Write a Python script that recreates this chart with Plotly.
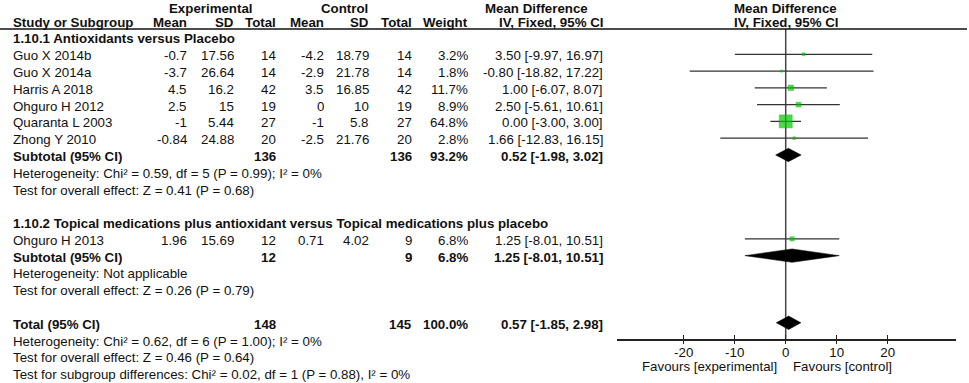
import numpy as np
import plotly.graph_objects as go

W, H = 969, 383

# ---------------- data ----------------
group_titles = ["1.10.1 Antioxidants versus Placebo",
                "1.10.2 Topical medications plus antioxidant versus Topical medications plus placebo"]

g1_studies = ["Guo X 2014b", "Guo X 2014a", "Harris A 2018", "Ohguro H 2012", "Quaranta L 2003", "Zhong Y 2010"]
g1_exp_mean = [-0.7, -3.7, 4.5, 2.5, -1, -0.84]
g1_exp_sd = [17.56, 26.64, 16.2, 15, 5.44, 24.88]
g1_exp_n = [14, 14, 42, 19, 27, 20]
g1_ctl_mean = [-4.2, -2.9, 3.5, 0, -1, -2.5]
g1_ctl_sd = [18.79, 21.78, 16.85, 10, 5.8, 21.76]
g1_ctl_n = [14, 14, 42, 19, 27, 20]
g1_weight = [3.2, 1.8, 11.7, 8.9, 64.8, 2.8]
g1_md = [3.50, -0.80, 1.00, 2.50, 0.00, 1.66]
g1_lo = [-9.97, -18.82, -6.07, -5.61, -3.00, -12.83]
g1_hi = [16.97, 17.22, 8.07, 10.61, 3.00, 16.15]

g2_studies = ["Ohguro H 2013"]
g2_exp_mean = [1.96]
g2_exp_sd = [15.69]
g2_exp_n = [12]
g2_ctl_mean = [0.71]
g2_ctl_sd = [4.02]
g2_ctl_n = [9]
g2_weight = [6.8]
g2_md = [1.25]
g2_lo = [-8.01]
g2_hi = [10.51]

summary_labels = ["Subtotal (95% CI)", "Subtotal (95% CI)", "Total (95% CI)"]
summary_exp_n = [136, 12, 148]
summary_ctl_n = [136, 9, 145]
summary_weight = [93.2, 6.8, 100.0]
summary_md = [0.52, 1.25, 0.57]
summary_lo = [-1.98, -8.01, -1.85]
summary_hi = [3.02, 10.51, 2.98]

g1_notes = ["Heterogeneity: Chi² = 0.59, df = 5 (P = 0.99); I² = 0%",
            "Test for overall effect: Z = 0.41 (P = 0.68)"]
g2_notes = ["Heterogeneity: Not applicable",
            "Test for overall effect: Z = 0.26 (P = 0.79)"]
total_notes = ["Heterogeneity: Chi² = 0.62, df = 6 (P = 1.00); I² = 0%",
               "Test for overall effect: Z = 0.46 (P = 0.64)",
               "Test for subgroup differences: Chi² = 0.02, df = 1 (P = 0.88), I² = 0%"]

x_ticks = [-20, -10, 0, 10, 20]
x_tick_labels = ["-20", "-10", "0", "10", "20"]
favour_labels = ["Favours [experimental]", "Favours [control]"]

# ---------------- layout geometry ----------------
ROW0 = 37.5      # pixel y of row 0
DY = 16.78       # pixel per row
AX_PIX = 339.0   # pixel y of x axis line
X_LEFT, X_RIGHT = 617.0, 956.0
X_MIN, X_MAX = -33.08, 33.39

y_top = -ROW0 / DY
y_bot = (AX_PIX - ROW0) / DY

FONT = "Arial, Liberation Sans, Helvetica, sans-serif"
FS = 13.3
TXT = "#111111"

HEADER_PIX = {-2: 8.5, -1: 23.0}

def ypaper(row, shift=1.5):
    if row in HEADER_PIX:
        return 1 - HEADER_PIX[row] / H
    return 1 - (ROW0 + DY * row + shift) / H

def xp(px):
    return px / W

annotations = []

def add(px, row, text, anchor="left", bold=False, xref="paper"):
    annotations.append(dict(
        x=xp(px) if xref == "paper" else px, xref=xref,
        y=ypaper(row), yref="paper",
        text=f"<b>{text}</b>" if bold else text,
        xanchor=anchor, yanchor="middle", showarrow=False,
        font=dict(family=FONT, size=FS, color=TXT)))

# column positions (right edges in pixels)
C_NAME = 11
C_EM, C_ESD, C_EN = 189, 236, 278
C_CM, C_CSD, C_CN = 325.5, 371, 414
C_W = 470
C_CI = 605

fmt = lambda v: f"{v:g}"
fmt_ci = lambda m, l, h: f"{m:.2f} [{l:.2f}, {h:.2f}]"

# headers
add(211, -2, "Experimental", "center", True)
add(344.7, -2, "Control", "center", True)
add(536, -2, "Mean Difference", "center", True)
add(C_CI, -1, "IV, Fixed, 95% CI", "right", True)
add(0, -2, "Mean Difference", "center", True, xref="x")
add(0, -1, "IV, Fixed, 95% CI", "center", True, xref="x")
add(C_NAME, -1, "Study or Subgroup", "left", True)
for c, t in [(C_EM, "Mean"), (C_ESD, "SD"), (C_EN, "Total"),
             (C_CM, "Mean"), (C_CSD, "SD"), (C_CN, "Total"), (C_W, "Weight")]:
    add(c, -1, t, "right", True)

groups = [
    dict(title=group_titles[0], studies=g1_studies, em=g1_exp_mean, esd=g1_exp_sd, en=g1_exp_n,
         cm=g1_ctl_mean, csd=g1_ctl_sd, cn=g1_ctl_n, w=g1_weight, md=g1_md, lo=g1_lo, hi=g1_hi,
         notes=g1_notes, start=0),
    dict(title=group_titles[1], studies=g2_studies, em=g2_exp_mean, esd=g2_exp_sd, en=g2_exp_n,
         cm=g2_ctl_mean, csd=g2_ctl_sd, cn=g2_ctl_n, w=g2_weight, md=g2_md, lo=g2_lo, hi=g2_hi,
         notes=g2_notes, start=11),
]

study_rows, study_md, study_lo, study_hi, study_w = [], [], [], [], []
summary_rows = []
for gi, g in enumerate(groups):
    r = g["start"]
    add(C_NAME, r, g["title"], "left", True)
    for i, name in enumerate(g["studies"]):
        rr = r + 1 + i
        add(C_NAME, rr, name)
        add(C_EM, rr, fmt(g["em"][i]), "right")
        add(C_ESD, rr, fmt(g["esd"][i]), "right")
        add(C_EN, rr, fmt(g["en"][i]), "right")
        add(C_CM, rr, fmt(g["cm"][i]), "right")
        add(C_CSD, rr, fmt(g["csd"][i]), "right")
        add(C_CN, rr, fmt(g["cn"][i]), "right")
        add(C_W, rr, f"{g['w'][i]:.1f}%", "right")
        add(C_CI, rr, fmt_ci(g["md"][i], g["lo"][i], g["hi"][i]), "right")
        study_rows.append(rr)
        study_md.append(g["md"][i]); study_lo.append(g["lo"][i])
        study_hi.append(g["hi"][i]); study_w.append(g["w"][i])
    rs = r + 1 + len(g["studies"])
    summary_rows.append(rs)
    for k, note in enumerate(g["notes"]):
        add(C_NAME, rs + 1 + k, note)

summary_rows.append(17)
for k, note in enumerate(total_notes):
    add(C_NAME, 18 + k, note)

for k, rs in enumerate(summary_rows):
    add(C_NAME, rs, summary_labels[k], "left", True)
    add(C_EN, rs, fmt(summary_exp_n[k]), "right", True)
    add(C_CN, rs, fmt(summary_ctl_n[k]), "right", True)
    add(C_W, rs, f"{summary_weight[k]:.1f}%", "right", True)
    add(C_CI, rs, fmt_ci(summary_md[k], summary_lo[k], summary_hi[k]), "right", True)

# Favours labels
annotations.append(dict(x=-1.3, xref="x", y=1 - 366.5 / H, yref="paper", text=favour_labels[0],
                        xanchor="right", yanchor="middle", showarrow=False,
                        font=dict(family=FONT, size=FS, color=TXT)))
annotations.append(dict(x=1.0, xref="x", y=1 - 366.5 / H, yref="paper", text=favour_labels[1],
                        xanchor="left", yanchor="middle", showarrow=False,
                        font=dict(family=FONT, size=FS, color=TXT)))

fig = go.Figure()

# summary diamonds
hh = 0.40
for k, rs in enumerate(summary_rows):
    m, l, h = summary_md[k], summary_lo[k], summary_hi[k]
    fig.add_trace(go.Scatter(x=[l, m, h, m, l], y=[rs, rs - hh, rs, rs + hh, rs],
                             mode="lines", fill="toself", fillcolor="black",
                             line=dict(color="black", width=0.5),
                             showlegend=False, hoverinfo="skip"))

# study CIs and squares
sw = np.array(study_w)
fig.add_trace(go.Scatter(
    x=study_md, y=study_rows, mode="markers",
    marker=dict(symbol="square", size=1.62 * np.sqrt(sw), color="#00c800",
                line=dict(color="#00a000", width=0.5)),
    error_x=dict(type="data", symmetric=False,
                 array=list(np.array(study_hi) - np.array(study_md)),
                 arrayminus=list(np.array(study_md) - np.array(study_lo)),
                 color="#333333", thickness=1.3, width=0),
    showlegend=False, hoverinfo="skip"))

# empty trace for overlay axis (crossing ticks)
fig.add_trace(go.Scatter(x=[], y=[], xaxis="x2", yaxis="y", showlegend=False, hoverinfo="skip"))

shapes = [
    dict(type="line", xref="paper", yref="y", x0=0, x1=967 / W, y0=-0.5, y1=-0.5,
         line=dict(color="#111111", width=1.5)),
    dict(type="line", xref="x", yref="y", x0=0, x1=0, y0=-0.5, y1=y_bot,
         line=dict(color="#444444", width=1.5), layer="below"),
]

dom = [X_LEFT / W, X_RIGHT / W]
fig.update_layout(
    width=W, height=H,
    margin=dict(l=0, r=0, t=0, b=0),
    paper_bgcolor="white", plot_bgcolor="rgba(0,0,0,0)",
    showlegend=False,
    xaxis=dict(domain=dom, range=[X_MIN, X_MAX], tickvals=x_ticks, ticktext=x_tick_labels,
               ticks="inside", ticklen=4, tickwidth=1.3, tickcolor="#222222",
               showline=True, linecolor="#222222", linewidth=1.5,
               showgrid=False, zeroline=False, anchor="y",
               tickfont=dict(family=FONT, size=FS, color=TXT), fixedrange=True),
    xaxis2=dict(domain=dom, range=[X_MIN, X_MAX], tickvals=x_ticks, overlaying="x",
                ticks="outside", ticklen=4, tickwidth=1.3, tickcolor="#222222",
                showticklabels=False, showline=False, showgrid=False, zeroline=False,
                anchor="y", side="bottom", fixedrange=True),
    yaxis=dict(domain=[1 - AX_PIX / H, 1], range=[y_bot, y_top], visible=False,
               showgrid=False, zeroline=False, fixedrange=True),
    annotations=annotations,
    shapes=shapes,
)

fig.write_html("out.html",
               config={"displayModeBar": False},
               post_script="document.body.style.margin='0';document.body.style.overflow='hidden';")
